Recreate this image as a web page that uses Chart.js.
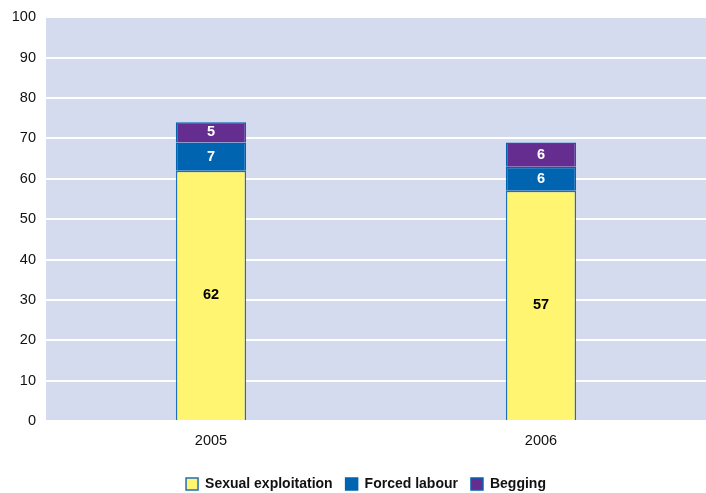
<!DOCTYPE html>
<html>
<head>
<meta charset="utf-8">
<script src="https://cdn.jsdelivr.net/npm/chart.js@4/dist/chart.umd.min.js"></script>
<style>
  html, body { margin: 0; padding: 0; background: #fff; }
  #wrap { width: 706px; height: 493px; }
</style>
</head>
<body>
<div id="wrap"><canvas id="grafico"></canvas></div>
<script>
const years = ['2005', '2006'];
const sexualExploitation = [62, 57];
const forcedLabour = [7, 6];
const begging = [5, 6];
const yTicks = [0, 10, 20, 30, 40, 50, 60, 70, 80, 90, 100];

const fuente = '"Liberation Sans", Arial, sans-serif';

const fondoPlot = {
    id: 'fondoPlot',
    beforeDraw(chart) {
        const { ctx, chartArea } = chart;
        ctx.save();
        ctx.fillStyle = '#d5dbee';
        ctx.fillRect(chartArea.left, chartArea.top, chartArea.right - chartArea.left, chartArea.bottom - chartArea.top);
        ctx.restore();
    }
};

// la leyenda del original esta algo corrida a la derecha
const moverLeyenda = {
    id: 'moverLeyenda',
    afterLayout(chart) {
        if (chart.legend) {
            chart.legend.left += 13;
            chart.legend.right += 13;
        }
    }
};

const etiquetas = {
    id: 'etiquetas',
    afterDatasetsDraw(chart) {
        const ctx = chart.ctx;
        ctx.save();
        ctx.font = 'bold 14.5px ' + fuente;
        ctx.textAlign = 'center';
        ctx.textBaseline = 'middle';
        chart.data.datasets.forEach((ds, i) => {
            const meta = chart.getDatasetMeta(i);
            meta.data.forEach((bar, j) => {
                const y = (bar.y + bar.base) / 2;
                ctx.fillStyle = ds.labelColor;
                ctx.fillText(ds.data[j], bar.x, y);
            });
        });
        ctx.restore();
    }
};

new Chart(document.getElementById('grafico'), {
    type: 'bar',
    data: {
        labels: years,
        datasets: [
            { label: 'Sexual exploitation', data: sexualExploitation, backgroundColor: '#fff571', borderColor: '#1f6fb5', borderWidth: 1.5, labelColor: '#000' },
            { label: 'Forced labour', data: forcedLabour, backgroundColor: '#0064b1', borderColor: '#0064b1', borderWidth: 1.5, labelColor: '#fff' },
            { label: 'Begging', data: begging, backgroundColor: '#662d91', borderColor: '#0064b1', borderWidth: 1.5, labelColor: '#fff' }
        ]
    },
    options: {
        responsive: true,
        maintainAspectRatio: false,
        animation: false,
        layout: { padding: { top: 5, right: 0, left: 0, bottom: -8 } },
        datasets: { bar: { barPercentage: 0.213, categoryPercentage: 1 } },
        plugins: {
            legend: {
                position: 'bottom',
                labels: {
                    boxWidth: 12,
                    boxHeight: 12,
                    padding: 13,
                    color: '#111',
                    font: { family: fuente, size: 14, weight: 'bold' }
                }
            },
            tooltip: { enabled: false }
        },
        scales: {
            x: {
                stacked: true,
                grid: { display: false },
                border: { display: false },
                afterFit(axis) { axis.height = 43; },
                ticks: { color: '#111', font: { family: fuente, size: 14.5 }, padding: 3 }
            },
            y: {
                stacked: true,
                min: 0,
                max: 100,
                afterBuildTicks(axis) { axis.ticks = yTicks.map(v => ({ value: v })); },
                afterFit(axis) { axis.width = 46; },
                grid: { color: '#ffffff', lineWidth: 2, drawTicks: false },
                border: { display: false },
                ticks: { color: '#111', padding: 10, font: { family: fuente, size: 14.5, lineHeight: 1 } }
            }
        }
    },
    plugins: [fondoPlot, moverLeyenda, etiquetas]
});
</script>
</body>
</html>
